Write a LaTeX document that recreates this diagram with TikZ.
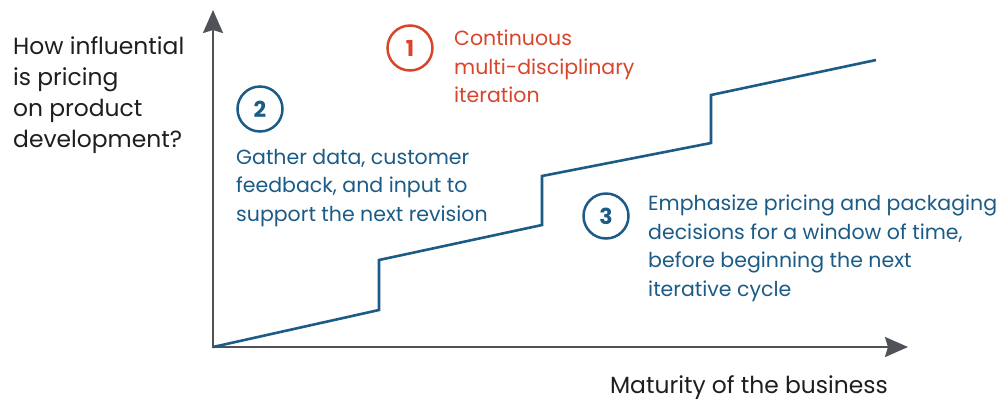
\documentclass[tikz,border=0pt]{standalone}
\usepackage{fontspec}
\setmainfont{Poppins}
\usetikzlibrary{positioning, arrows.meta}

\definecolor{stageblue}{HTML}{1B5B86}
\definecolor{stagered}{HTML}{D8452B}
\definecolor{axisgray}{HTML}{4F5256}
\definecolor{labelink}{HTML}{1E1E1E}

\tikzset{
  axis/.style={line width=2.2pt, axisgray, {Stealth[length=23pt,width=20pt,inset=3pt]}-{Stealth[length=23pt,width=20pt,inset=3pt]}},
  growth/.style={line width=2.6pt, stageblue, line join=miter},
  stagenum/.style={circle, draw, line width=2.5pt, minimum size=45pt, inner sep=0pt, font=\bfseries\fontsize{22}{26}\selectfont},
  stagetext/.style={align=left, anchor=north west, inner sep=0pt, font=\fontsize{20.5}{28.5}\selectfont},
  axislabel/.style={labelink, inner sep=0pt, font=\fontsize{23.4}{31}\selectfont},
}

\begin{document}
\begin{tikzpicture}[x=1pt,y=-1pt]
    \useasboundingbox (0,0) rectangle (1001,400);
    % Draw axes
    \draw [axis] (213,10) coordinate (ytip) |- (908,347) coordinate (xtip);
    \coordinate (origin) at (213,347);
    \node [axislabel, align=left, anchor=north west] (ylabel) at (13,36) {How influential\\is pricing\\on product\\development?};
    \node [axislabel, anchor=base east] (xlabel) at (888,393) {Maturity of the business};
    % Draw the stepped line
    \draw [growth] (origin) -- (379,310) coordinate (a_1)
      -- (379,260) coordinate (a_2)
      -- (542,225) coordinate (b_1)
      -- (542,176) coordinate (b_2)
      -- (711,143) coordinate (c_1)
      -- (711,95) coordinate (c_2)
      -- (876,60) coordinate (d_1);

    \node [stagenum, draw=stagered, text=stagered] (one) at (410,48) {1};
    \node [stagetext, text=stagered] (onetext) at (454,30) {Continuous\\multi-disciplinary\\iteration};

    \node [stagenum, draw=stageblue, text=stageblue] (two) at (260,109) {2};
    \node [stagetext, text=stageblue] (twotext) at (236,149) {Gather data, customer\\feedback, and input to\\support the next revision};

    \node [stagenum, draw=stageblue, text=stageblue] (three) at (606,216) {3};
    \node [stagetext, text=stageblue] (threetext) at (648,195) {Emphasize pricing and packaging\\decisions for a window of time,\\before beginning the next\\iterative cycle};
\end{tikzpicture}
\end{document}
